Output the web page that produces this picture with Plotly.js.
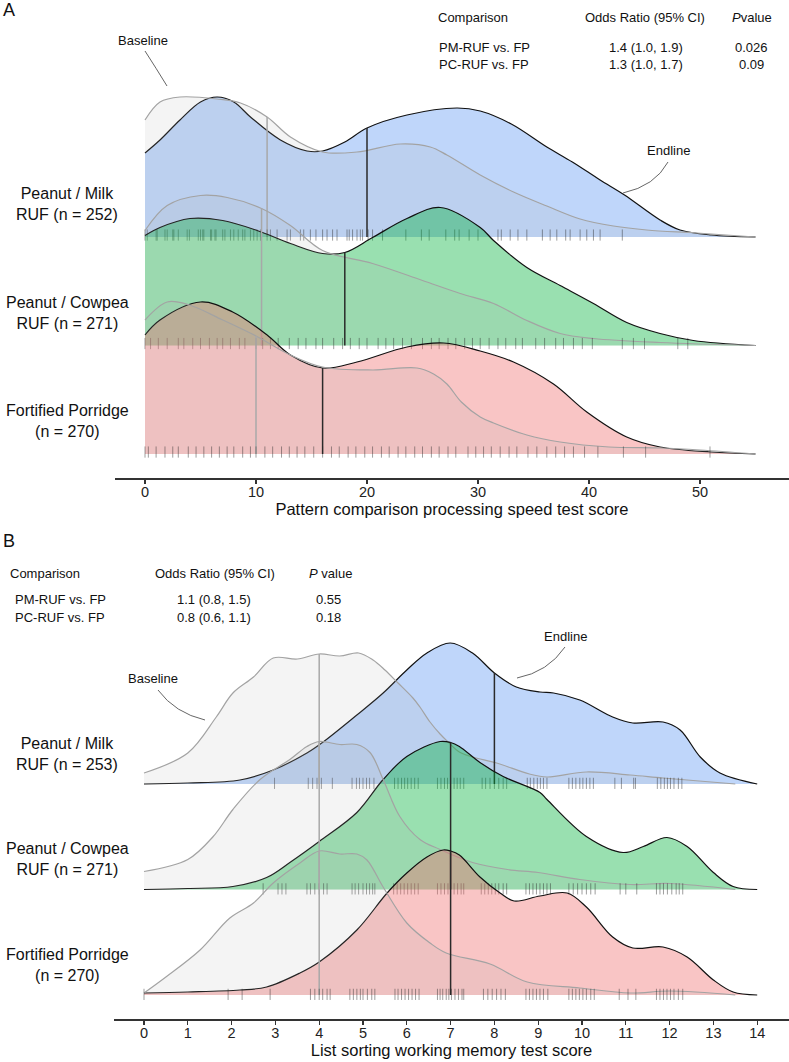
<!DOCTYPE html>
<html><head><meta charset="utf-8">
<script src="https://cdn.plot.ly/plotly-3.0.1.min.js"></script>
<style>html,body{margin:0;padding:0;background:#fff}#chart{width:789px;height:1062px}</style>
</head><body><div id="chart"></div>
<script>
// ---------------- DATA ----------------
const groupsA = ['Peanut / Milk<br>RUF (n = 252)', 'Peanut / Cowpea<br>RUF (n = 271)', 'Fortified Porridge<br>(n = 270)'];
const groupsB = ['Peanut / Milk<br>RUF (n = 253)', 'Peanut / Cowpea<br>RUF (n = 271)', 'Fortified Porridge<br>(n = 270)'];

// Panel A: pattern comparison processing speed (score, ridge height)
const A_PM_end_x  = [0, 1.35, 3.15, 5, 6.5, 8, 9.5, 12.2, 14.6, 16, 18, 20, 23.6, 28.1, 30.2, 33, 36.2, 38.5, 41, 43.2, 46.4, 48.2, 51, 55];
const A_PM_end_h  = [84, 97, 117, 135, 140, 135, 120, 97, 86, 86, 95, 109, 122, 129, 126, 113, 90, 75, 57, 42, 17, 7, 2, 0];
const A_PM_base_x = [0, 1.35, 3.15, 6.5, 8.6, 11, 13.1, 16, 19.1, 23, 25.7, 27.2, 30.2, 33.2, 36.2, 39.2, 42.2, 45.2, 49.7, 55];
const A_PM_base_h = [117, 135, 140, 138, 134, 120, 100, 85, 85, 93, 90, 82, 62, 45, 31, 18, 11, 7, 4, 0];

const A_PC_end_x  = [0, 1.35, 4.05, 7, 10.1, 13.1, 16, 18, 20.5, 23.6, 26.6, 30.2, 31.4, 34.4, 37.4, 40.4, 43.4, 46.4, 49.4, 55];
const A_PC_end_h  = [110, 118, 127, 125, 115, 102, 92, 93, 108, 127, 138, 118, 105, 78, 60, 42, 23, 12, 5, 0];
const A_PC_base_x = [0, 2, 5, 7.4, 10.5, 13.1, 16, 20.5, 25, 28.4, 31.4, 34.4, 37.4, 40.4, 46.4, 55];
const A_PC_base_h = [115, 140, 150, 148, 137, 120, 95, 82, 65, 52, 42, 25, 12, 7, 3, 0];

const A_FP_end_x  = [0, 1.35, 5, 7.9, 11, 13.1, 16, 19.1, 23.6, 26.9, 30.2, 33.2, 36.8, 39.8, 43.4, 46.4, 51, 55];
const A_FP_end_h  = [119, 134, 152, 142, 119, 99, 86, 92, 107, 111, 103, 92, 70, 42, 17, 7, 2, 0];
const A_FP_base_x = [0, 2, 4, 7, 10, 13.1, 16, 20.5, 24.5, 26, 27.2, 28.5, 30.2, 31.4, 34.4, 37.4, 41.8, 46.4, 50, 55];
const A_FP_base_h = [134, 152, 149, 134, 118, 99, 87, 84, 86, 80, 70, 52, 37, 31, 19, 12, 7, 6, 4, 0];

const A_med_base = [11, 10.5, 10];
const A_med_end  = [20, 18, 16];

const A_PM_rug = [0, 0.2, 1, 1.1, 1.8, 2, 2.5, 2.6, 3, 3.8, 4, 4.8, 5, 5.2, 5.3, 5.9, 6, 6.3, 6.4, 7, 7.2, 7.7, 8, 8.4, 8.8, 9, 9.5, 9.8, 10.1, 10.4, 11, 11.3, 11.9, 12.8, 13.1, 14, 14.3, 14.9, 15.4, 16, 16.4, 16.9, 17.3, 18.2, 18.4, 18.7, 19.1, 19.4, 19.6, 20.1, 20.5, 21.4, 23.5, 24.9, 25.6, 27.1, 27.9, 28.3, 29.2, 30, 31.8, 32.1, 32.9, 33.6, 34.4, 35.8, 36.5, 37.1, 37.9, 38.3, 39.2, 39.8, 40.4, 41, 43];
const A_PC_rug = [0, 0.5, 1.2, 2, 3, 3.5, 4.3, 5, 5.8, 6.5, 7, 7.7, 8.5, 9, 10, 10.6, 11.3, 12, 13, 13.8, 14.5, 15.4, 16, 17, 17.8, 18.5, 19.3, 20, 21, 21.7, 22.4, 23.2, 24, 25, 25.8, 26.5, 27.3, 28, 28.8, 29.5, 30.2, 31, 31.8, 32.5, 33.4, 34, 35.2, 36, 37, 37.7, 38.6, 39.4, 40.3, 43, 44, 45, 48, 48.9];
const A_FP_rug = [0, 0.3, 1, 1.8, 2.5, 3, 3.9, 4.6, 5.3, 6, 6.7, 7.4, 8, 8.8, 9.5, 10, 10.8, 11.5, 12.3, 13, 13.7, 14.4, 15.2, 16, 16.8, 17.5, 18.3, 19, 19.8, 20.5, 21.3, 22, 22.8, 23.5, 24.3, 25, 25.8, 26.5, 27.3, 28, 29.1, 29.8, 30.5, 31.2, 32, 32.8, 33.5, 34.5, 35.3, 36.2, 37, 37.8, 38.6, 39.6, 40.8, 43.1, 45.1, 50.9];

// Panel B: list sorting working memory (score, ridge height)
const B_PM_end_x  = [0, 1, 2.19, 2.95, 3.72, 4.09, 4.86, 5.46, 6.0, 6.46, 6.99, 7.5, 8.0, 8.5, 9.04, 9.35, 9.95, 10.7, 11.16, 11.85, 12.24, 12.7, 13.15, 14];
const B_PM_end_h  = [0, 1, 4, 14, 31, 42, 69, 91, 114, 131, 141, 131, 111, 97, 92, 91, 84, 67, 61, 62, 54, 27, 11, 0];
const B_PM_base_x = [0, 1, 1.65, 2.03, 2.5, 2.95, 3.5, 4.0, 4.47, 4.9, 5.23, 5.5, 5.8, 6.14, 6.3, 6.53, 6.76, 6.92, 7.2, 7.5, 8.05, 8.8, 9.2, 10.1, 11.1, 11.85, 13.5];
const B_PM_base_h = [11, 31, 67, 91, 107, 126, 125, 130, 128, 131, 124, 114, 101, 86, 77, 62, 50, 43, 32, 27, 21, 10, 7, 12, 9, 6, 0];

const B_PC_end_x  = [0, 1, 2.03, 2.8, 3.33, 4.0, 4.86, 5.46, 6.0, 6.76, 7.0, 7.2, 7.67, 8.2, 9.04, 9.2, 10.1, 10.94, 11.4, 11.94, 12.4, 13, 13.45, 14];
const B_PC_end_h  = [0, 1, 3, 12, 27, 48, 77, 110, 133, 148, 147, 143, 127, 113, 97, 90, 53, 37, 43, 52, 43, 17, 3, 0];
const B_PC_base_x = [0, 1, 1.58, 2.03, 2.65, 3.33, 3.72, 4.0, 4.47, 4.86, 5.16, 5.46, 5.84, 6.3, 6.76, 7.5, 8.3, 9.0, 9.95, 11.1, 12.0, 13.5];
const B_PC_base_h = [18, 30, 53, 80, 110, 130, 143, 148, 145, 145, 137, 110, 73, 50, 40, 27, 20, 17, 10, 5, 6, 0];

const B_FP_end_x  = [0, 1, 2.19, 2.8, 3.56, 4.0, 4.86, 5.55, 6.0, 6.46, 6.83, 7.0, 7.2, 7.67, 8.13, 8.45, 9.04, 9.66, 10.1, 10.7, 11.16, 11.85, 12.4, 13, 13.45, 14];
const B_FP_end_h  = [2, 3, 5, 8, 22, 33, 65, 102, 122, 138, 145, 144, 140, 118, 102, 94, 99, 102, 88, 58, 47, 48, 38, 15, 3, 0];
const B_FP_base_x = [0, 0.5, 1.28, 1.96, 2.5, 2.95, 3.56, 4.0, 4.47, 4.86, 5.09, 5.46, 6.0, 6.53, 6.9, 7.9, 8.75, 9.95, 11.1, 12.0, 13.5];
const B_FP_base_h = [2, 18, 45, 77, 92, 112, 132, 144, 141, 141, 135, 108, 72, 52, 42, 31, 13, 7, 2, 4, 0];

const B_med_base = [4, 4, 4];
const B_med_end  = [8, 7, 7];

const B_PM_rug = [2.98, 3.75, 3.85, 3.95, 4.05, 4.3, 4.75, 4.85, 4.92, 5.0, 5.08, 5.15, 5.25, 5.72, 5.8, 5.88, 5.95, 6.02, 6.1, 6.18, 6.26, 6.7, 6.78, 6.86, 6.93, 7.0, 7.08, 7.15, 7.22, 7.3, 7.72, 7.8, 7.9, 8.0, 8.1, 8.2, 8.28, 8.75, 8.82, 8.9, 8.98, 9.05, 9.12, 9.2, 9.7, 9.78, 9.86, 9.95, 10.02, 10.1, 10.18, 10.26, 10.75, 10.9, 11.18, 11.22, 11.72, 11.8, 11.88, 11.95, 12.02, 12.1, 12.2, 12.28];
const B_PC_rug = [2.72, 3.06, 3.15, 3.24, 3.72, 3.8, 3.9, 4.0, 4.1, 4.18, 4.75, 4.82, 4.9, 5.0, 5.08, 5.15, 5.22, 5.27, 5.7, 5.78, 5.86, 5.94, 6.02, 6.1, 6.18, 6.26, 6.7, 6.78, 6.86, 6.94, 7.0, 7.08, 7.16, 7.24, 7.3, 7.7, 7.78, 7.86, 7.94, 8.02, 8.1, 8.2, 8.28, 8.72, 8.8, 8.88, 8.96, 9.04, 9.12, 9.2, 9.28, 9.7, 9.8, 9.9, 10.0, 10.1, 10.2, 10.3, 10.87, 11.0, 11.25, 11.7, 11.78, 11.86, 11.95, 12.05, 12.15, 12.22, 12.3];
const B_FP_rug = [0.0, 1.92, 2.24, 2.88, 3.8, 3.9, 4.0, 4.08, 4.18, 4.25, 4.7, 4.78, 4.86, 4.94, 5.0, 5.1, 5.2, 5.27, 5.73, 5.8, 5.88, 5.96, 6.04, 6.12, 6.2, 6.28, 6.7, 6.76, 6.82, 6.9, 6.96, 7.02, 7.1, 7.18, 7.26, 7.3, 7.75, 7.85, 7.95, 8.05, 8.15, 8.25, 8.72, 8.8, 8.88, 8.96, 9.04, 9.12, 9.22, 9.7, 9.78, 9.86, 9.94, 10.02, 10.1, 10.2, 10.28, 10.85, 11.05, 11.23, 11.7, 11.78, 11.86, 11.94, 12.02, 12.1, 12.2, 12.3];

const ticksA = [0, 10, 20, 30, 40, 50];
const ticksB = [0, 1, 2, 3, 4, 5, 6, 7, 8, 9, 10, 11, 12, 13, 14];

const tableHeader = ['Comparison', 'Odds Ratio (95% CI)'];
const tableA_rows = [['PM-RUF vs. FP', '1.4 (1.0, 1.9)', '0.026'], ['PC-RUF vs. FP', '1.3 (1.0, 1.7)', '0.09']];
const tableB_rows = [['PM-RUF vs. FP', '1.1 (0.8, 1.5)', '0.55'], ['PC-RUF vs. FP', '0.8 (0.6, 1.1)', '0.18']];

// ---------------- STYLE ----------------
const W = 789, H = 1062;
const FONT = 'Liberation Sans, Arial, Helvetica, sans-serif';
const fills = ['rgba(95,152,243,0.4)', 'rgba(0,178,58,0.4)', 'rgba(240,110,110,0.4)'];
const grayFill = 'rgba(167,167,167,0.13)';
const grayLine = '#a3a3a3';
const blackLine = '#111111';
const rugColor = 'rgba(40,40,40,0.45)';
const px = v => v / W, py = v => 1 - v / H;

function interp(xs, hs, m) {
  for (let i = 0; i < xs.length - 1; i++) {
    if (m >= xs[i] && m <= xs[i + 1]) {
      const t = (m - xs[i]) / (xs[i + 1] - xs[i]);
      return hs[i] + t * (hs[i + 1] - hs[i]);
    }
  }
  return 0;
}

const traces = [];
function area(xs, hs, base, s, xa, ya, fillcolor, lcolor) {
  traces.push({x: [xs[0], xs[xs.length - 1]], y: [base, base], xaxis: xa, yaxis: ya, mode: 'lines',
    line: {width: 0, color: 'rgba(0,0,0,0)'}, hoverinfo: 'skip', showlegend: false});
  traces.push({x: xs, y: hs.map(h => base + h * s), xaxis: xa, yaxis: ya, mode: 'lines', fill: 'tonexty',
    fillcolor: fillcolor, line: {color: lcolor, width: 1.2, shape: 'spline', smoothing: 1},
    hoverinfo: 'skip', showlegend: false});
}
function vline(m, xs, hs, base, s, xa, ya, color, w) {
  traces.push({x: [m, m], y: [base, base + interp(xs, hs, m) * s], xaxis: xa, yaxis: ya, mode: 'lines',
    line: {color: color, width: w}, hoverinfo: 'skip', showlegend: false});
}
function rug(vals, base, off, xa, ya) {
  traces.push({x: vals, y: vals.map(() => base + off), xaxis: xa, yaxis: ya, mode: 'markers',
    marker: {symbol: 'line-ns-open', size: 8, color: rugColor, line: {width: 1, color: rugColor}},
    hoverinfo: 'skip', showlegend: false});
}

function panel(rid, xa, ya, s, off) {
  rid.forEach((r, i) => {
    const base = 2 - i;
    area(r.ex, r.eh, base, s, xa, ya, fills[i], blackLine);
    area(r.bx, r.bh, base, s, xa, ya, grayFill, grayLine);
    vline(r.mb, r.bx, r.bh, base, s, xa, ya, '#a8a8a8', 1.5);
    vline(r.me, r.ex, r.eh, base, s, xa, ya, '#2a2a2a', 1.5);
    rug(r.rug, base, off, xa, ya);
  });
}

panel([
  {ex: A_PM_end_x, eh: A_PM_end_h, bx: A_PM_base_x, bh: A_PM_base_h, mb: A_med_base[0], me: A_med_end[0], rug: A_PM_rug},
  {ex: A_PC_end_x, eh: A_PC_end_h, bx: A_PC_base_x, bh: A_PC_base_h, mb: A_med_base[1], me: A_med_end[1], rug: A_PC_rug},
  {ex: A_FP_end_x, eh: A_FP_end_h, bx: A_FP_base_x, bh: A_FP_base_h, mb: A_med_base[2], me: A_med_end[2], rug: A_FP_rug}
], 'x', 'y', 1 / 108.5, 0.018);
panel([
  {ex: B_PM_end_x, eh: B_PM_end_h, bx: B_PM_base_x, bh: B_PM_base_h, mb: B_med_base[0], me: B_med_end[0], rug: B_PM_rug},
  {ex: B_PC_end_x, eh: B_PC_end_h, bx: B_PC_base_x, bh: B_PC_base_h, mb: B_med_base[1], me: B_med_end[1], rug: B_PC_rug},
  {ex: B_FP_end_x, eh: B_FP_end_h, bx: B_FP_base_x, bh: B_FP_base_h, mb: B_med_base[2], me: B_med_end[2], rug: B_FP_rug}
], 'x2', 'y2', 1 / 105.5, 0.006);

// ---------------- ANNOTATIONS ----------------
const ann = [];
function txt(text, x, y, xanchor, size, extra) {
  ann.push(Object.assign({text: text, x: px(x), y: py(y), xref: 'paper', yref: 'paper', xanchor: xanchor,
    yanchor: 'middle', showarrow: false, font: {family: FONT, size: size, color: '#111'}}, extra || {}));
}
txt('A', 1, 10, 'left', 18);
txt('B', 1, 541, 'left', 18);

// table A
txt(tableHeader[0], 436, 18, 'left', 13);
txt(tableHeader[1], 645, 18, 'center', 13);
txt('<i>P</i>value', 752, 18, 'center', 13);
tableA_rows.forEach((r, i) => {
  const y = [47, 65][i];
  txt(r[0], 437, y, 'left', 13); txt(r[1], 646, y, 'center', 13); txt(r[2], 751, y, 'center', 13);
});
// table B
txt(tableHeader[0], 8, 573, 'left', 13);
txt(tableHeader[1], 215, 573, 'center', 13);
txt('<i>P</i> value', 330, 573, 'center', 13);
tableB_rows.forEach((r, i) => {
  const y = [599, 617][i];
  txt(r[0], 13, y, 'left', 13); txt(r[1], 214, y, 'center', 13); txt(r[2], 328, y, 'center', 13);
});

txt('Baseline', 143, 41, 'center', 13);
txt('Endline', 668, 150, 'center', 13);
txt('Baseline', 153, 678, 'center', 13);
txt('Endline', 565, 636, 'center', 13);

// group labels
groupsA.forEach((g, i) => ann.push({text: g, x: px(67), xref: 'paper', y: 2 - i + 0.3, yref: 'y', xanchor: 'center',
  yanchor: 'middle', align: 'center', showarrow: false, font: {family: FONT, size: 16, color: '#111'}}));
groupsB.forEach((g, i) => ann.push({text: g, x: px(67), xref: 'paper', y: 2 - i + 0.285, yref: 'y2', xanchor: 'center',
  yanchor: 'middle', align: 'center', showarrow: false, font: {family: FONT, size: 16, color: '#111'}}));

// pointer curves
function pth(a) { return 'M' + px(a[0]) + ',' + py(a[1]) + ' Q' + px(a[2]) + ',' + py(a[3]) + ' ' + px(a[4]) + ',' + py(a[5]); }
const shapes = [
  {type: 'path', xref: 'paper', yref: 'paper', path: pth([145, 51, 156, 68, 167, 86]), line: {color: '#666', width: 1}},
  {type: 'path', xref: 'paper', yref: 'paper', path: pth([668, 162, 655, 186, 623, 193]), line: {color: '#666', width: 1}},
  {type: 'path', xref: 'paper', yref: 'paper', path: pth([158, 690, 175, 713, 205, 720]), line: {color: '#666', width: 1}},
  {type: 'path', xref: 'paper', yref: 'paper', path: pth([565, 647, 548, 672, 517, 678]), line: {color: '#666', width: 1}}
];

const axisCommon = {showline: true, linecolor: '#333', linewidth: 1.5, ticks: 'outside', ticklen: 4, tickwidth: 1.3,
  tickcolor: '#333', showgrid: false, zeroline: false, tickfont: {family: FONT, size: 14.5, color: '#222'},
  ticklabelstandoff: -4, automargin: false, fixedrange: true};

const layout = {
  width: W, height: H, margin: {l: 0, r: 0, t: 0, b: 0}, paper_bgcolor: '#fff', plot_bgcolor: 'rgba(0,0,0,0)',
  showlegend: false, font: {family: FONT},
  xaxis: Object.assign({}, axisCommon, {domain: [115 / W, 1], range: [-30 / 11.1, 644 / 11.1], anchor: 'y',
    tickmode: 'array', tickvals: ticksA, ticktext: ticksA.map(String),
    title: {text: 'Pattern comparison processing speed test score', font: {family: FONT, size: 16.5, color: '#111'}, standoff: 0}}),
  yaxis: {domain: [1 - 478 / H, 1], range: [(454 - 478) / 108.5, 454 / 108.5], visible: false, fixedrange: true, anchor: 'x'},
  xaxis2: Object.assign({}, axisCommon, {domain: [114 / W, 1], range: [-30 / 43.8, 645 / 43.8], anchor: 'y2',
    tickmode: 'array', tickvals: ticksB, ticktext: ticksB.map(String),
    title: {text: 'List sorting working memory test score', font: {family: FONT, size: 16.5, color: '#111'}, standoff: 2}}),
  yaxis2: {domain: [1 - 1019 / H, 1 - 540 / H], range: [(995 - 1019) / 105.5, (995 - 540) / 105.5], visible: false, fixedrange: true, anchor: 'x2'},
  annotations: ann, shapes: shapes
};

Plotly.newPlot('chart', traces, layout, {staticPlot: true, displayModeBar: false});
</script></body></html>
